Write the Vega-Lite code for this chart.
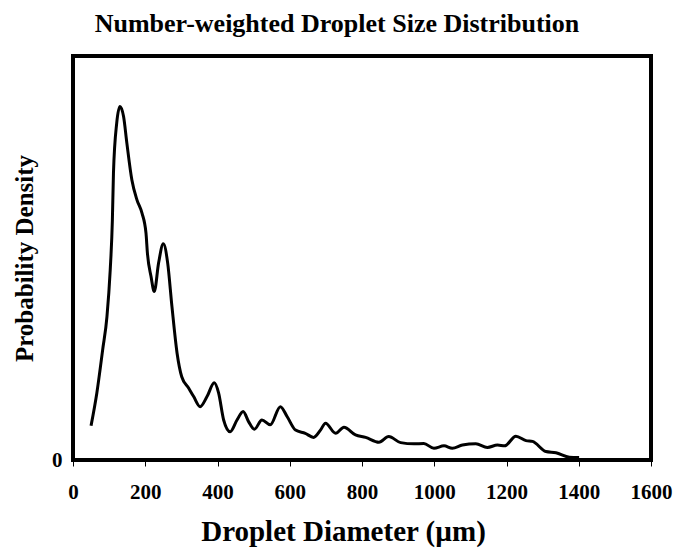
{
  "$schema": "https://vega.github.io/schema/vega-lite/v6.json",
  "autosize": "none",
  "width": 578,
  "height": 404,
  "padding": {"left": 73, "top": 56, "right": 22, "bottom": 92},
  "background": "white",
  "title": {
    "text": "Number-weighted Droplet Size Distribution",
    "font": "Liberation Serif",
    "fontSize": 26,
    "fontWeight": "bold",
    "color": "black",
    "anchor": "middle",
    "dx": -25,
    "offset": 19
  },
  "config": {
    "view": {"stroke": "black", "strokeWidth": 4},
    "axis": {"labelFont": "Liberation Serif", "titleFont": "Liberation Serif", "labelColor": "black", "titleColor": "black", "grid": false, "domain": false}
  },
  "data": {
    "values": [
      {"d": 50, "p": 8.5}, {"d": 66, "p": 16.6}, {"d": 82, "p": 27.2}, {"d": 94, "p": 35.5},
      {"d": 103, "p": 47.0}, {"d": 109, "p": 59.4}, {"d": 112, "p": 71.0}, {"d": 121, "p": 83.4},
      {"d": 130, "p": 87.5}, {"d": 140, "p": 85.0}, {"d": 149, "p": 78.5}, {"d": 163, "p": 69.3},
      {"d": 177, "p": 64.4}, {"d": 191, "p": 61.1}, {"d": 202, "p": 56.2}, {"d": 206, "p": 51.2},
      {"d": 216, "p": 45.4}, {"d": 225, "p": 41.7}, {"d": 237, "p": 48.8}, {"d": 250, "p": 53.5},
      {"d": 262, "p": 48.8}, {"d": 274, "p": 37.9}, {"d": 288, "p": 26.5}, {"d": 301, "p": 20.6},
      {"d": 320, "p": 17.8}, {"d": 334, "p": 15.7}, {"d": 352, "p": 13.2}, {"d": 371, "p": 15.7},
      {"d": 391, "p": 19.1}, {"d": 403, "p": 16.6}, {"d": 417, "p": 9.9}, {"d": 435, "p": 7.0},
      {"d": 454, "p": 9.9}, {"d": 471, "p": 12.0}, {"d": 486, "p": 9.5}, {"d": 502, "p": 7.6},
      {"d": 523, "p": 9.9}, {"d": 546, "p": 8.7}, {"d": 574, "p": 13.2}, {"d": 593, "p": 10.7},
      {"d": 616, "p": 7.4}, {"d": 643, "p": 6.6}, {"d": 666, "p": 5.6}, {"d": 685, "p": 7.4},
      {"d": 699, "p": 9.1}, {"d": 727, "p": 6.6}, {"d": 750, "p": 8.1}, {"d": 782, "p": 6.2},
      {"d": 810, "p": 5.6}, {"d": 847, "p": 4.4}, {"d": 874, "p": 5.8}, {"d": 907, "p": 4.3},
      {"d": 944, "p": 4.0}, {"d": 971, "p": 4.1}, {"d": 999, "p": 2.9}, {"d": 1027, "p": 3.5},
      {"d": 1050, "p": 2.9}, {"d": 1078, "p": 3.7}, {"d": 1115, "p": 4.0}, {"d": 1147, "p": 3.1},
      {"d": 1175, "p": 3.7}, {"d": 1195, "p": 3.5}, {"d": 1226, "p": 5.9}, {"d": 1254, "p": 4.8},
      {"d": 1272, "p": 4.6}, {"d": 1309, "p": 2.1}, {"d": 1337, "p": 1.8}, {"d": 1374, "p": 0.7},
      {"d": 1401, "p": 0.6}
    ]
  },
  "mark": {"type": "line", "color": "black", "strokeWidth": 3, "interpolate": "monotone"},
  "encoding": {
    "x": {
      "field": "d", "type": "quantitative",
      "scale": {"domain": [0, 1600], "nice": false, "zero": true},
      "axis": {
        "values": [0, 200, 400, 600, 800, 1000, 1200, 1400, 1600],
        "format": "d",
        "title": "Droplet Diameter (µm)",
        "titleFontSize": 29, "titleFontWeight": "bold", "titlePadding": 15,
        "titleX": 270, "titleAlign": "center",
        "labelFontSize": 21, "labelFontWeight": "bold", "labelPadding": 15,
        "ticks": true, "tickSize": 6, "tickColor": "black", "tickWidth": 1,
        "labelFlush": false
      }
    },
    "y": {
      "field": "p", "type": "quantitative",
      "scale": {"domain": [0, 100], "nice": false},
      "axis": {
        "values": [0],
        "title": "Probability Density",
        "titleFontSize": 25, "titleFontWeight": "bold", "titlePadding": 14,
        "labelFontSize": 21, "labelFontWeight": "bold", "labelPadding": 11,
        "ticks": false
      }
    }
  }
}
